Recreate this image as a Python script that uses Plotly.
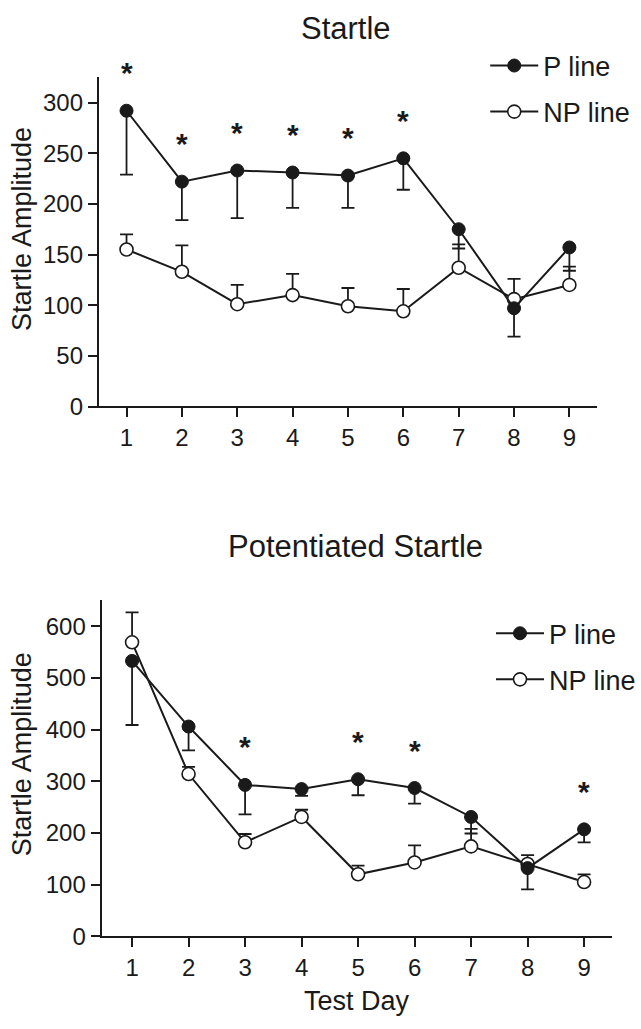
import plotly.graph_objects as go

# ---------------- data ----------------
days = [1, 2, 3, 4, 5, 6, 7, 8, 9]
day_labels = ["1", "2", "3", "4", "5", "6", "7", "8", "9"]

# Panel 1: Startle
startle_p = [292, 222, 233, 231, 228, 245, 175, 97, 157]
startle_p_sem = [63, 38, 47, 35, 32, 31, 19, 28, 23]
startle_np = [155, 133, 101, 110, 99, 94, 137, 106, 120]
startle_np_sem = [15, 26, 19, 21, 18, 22, 23, 20, 18]
startle_sig_days = [1, 2, 3, 4, 5, 6]

# Panel 2: Potentiated Startle
pot_p = [533, 406, 293, 285, 304, 287, 231, 132, 207]
pot_p_sem = [124, 46, 57, 13, 31, 30, 32, 41, 25]
pot_np = [569, 314, 182, 231, 120, 143, 174, 140, 105]
pot_np_sem = [58, 14, 16, 14, 17, 33, 34, 17, 15]
pot_sig_days = [3, 5, 6, 9]

# ---------------- style ----------------
W, H = 641, 1029
INK = "#1a1a1a"
FONT = "Liberation Sans, Arial, Helvetica, sans-serif"

def fx(px):
    return px / W

def fy(py):
    return 1 - py / H

fig = go.Figure()

def add_panel(xa, ya, legend, p, p_sem, np_, np_sem):
    zeros = [0] * len(days)
    fig.add_trace(go.Scatter(
        x=days, y=np_, name="NP line", mode="lines+markers",
        xaxis=xa, yaxis=ya, legend=legend, legendrank=2, legendgroup=legend + "np",
        line=dict(color=INK, width=2),
        marker=dict(symbol="circle", size=13, color="white", line=dict(color=INK, width=1.6)),
        error_y=dict(type="data", symmetric=False, array=np_sem, arrayminus=zeros,
                     color=INK, thickness=1.8, width=6.5),
        cliponaxis=False, hoverinfo="x+y"))
    fig.add_trace(go.Scatter(
        x=days, y=p, name="P line", mode="lines+markers",
        xaxis=xa, yaxis=ya, legend=legend, legendrank=1, legendgroup=legend + "p",
        line=dict(color=INK, width=2),
        marker=dict(symbol="circle", size=13, color=INK, line=dict(color=INK, width=1)),
        error_y=dict(type="data", symmetric=False, array=zeros, arrayminus=p_sem,
                     color=INK, thickness=1.8, width=6.5),
        cliponaxis=False, hoverinfo="x+y"))

add_panel("x", "y", "legend", startle_p, startle_p_sem, startle_np, startle_np_sem)
add_panel("x2", "y2", "legend2", pot_p, pot_p_sem, pot_np, pot_np_sem)

star_font = dict(family=FONT, size=30, color=INK)
annotations = []
for d in startle_sig_days:
    annotations.append(dict(x=d, y=startle_p[d - 1], xref="x", yref="y", text="<b>*</b>",
                            showarrow=False, yshift=38, font=star_font))
for d in pot_sig_days:
    annotations.append(dict(x=d, y=pot_p[d - 1], xref="x2", yref="y2", text="<b>*</b>",
                            showarrow=False, yshift=38, font=star_font))

# titles
annotations.append(dict(x=fx(347), y=fy(29), xref="paper", yref="paper", text="Startle",
                        showarrow=False, xanchor="center", yanchor="middle",
                        font=dict(family=FONT, size=31, color=INK)))
annotations.append(dict(x=fx(356), y=fy(553), xref="paper", yref="paper",
                        text="Potentiated Startle", showarrow=False,
                        xanchor="center", yanchor="middle",
                        font=dict(family=FONT, size=31, color=INK)))
# y axis titles
for yc in (232, 764):
    annotations.append(dict(x=fx(22), y=fy(yc), xref="paper", yref="paper",
                            text="Startle Amplitude", textangle=-90, showarrow=False,
                            xanchor="center", yanchor="middle",
                            font=dict(family=FONT, size=27, color=INK)))
# x axis title
annotations.append(dict(x=fx(358), y=fy(1014), xref="paper", yref="paper",
                        text="Test Day", showarrow=False, xanchor="center", yanchor="middle",
                        font=dict(family=FONT, size=27, color=INK)))

axis_common = dict(showline=True, linecolor=INK, linewidth=2, ticks="outside",
                   ticklen=9, tickwidth=2, tickcolor=INK, showgrid=False, zeroline=False,
                   tickfont=dict(family=FONT, size=24, color=INK), fixedrange=True)

legend_common = dict(font=dict(family=FONT, size=27, color=INK), bgcolor="rgba(0,0,0,0)",
                     borderwidth=0, itemwidth=48, tracegroupgap=8,
                     xanchor="left", yanchor="top", traceorder="grouped")

fig.update_layout(
    width=W, height=H, autosize=False,
    margin=dict(l=0, r=0, t=0, b=0),
    paper_bgcolor="white", plot_bgcolor="white",
    font=dict(family=FONT, color=INK),
    showlegend=True,
    xaxis=dict(domain=[fx(99), fx(598)], anchor="y", range=[0.5, 9.5],
               tickvals=days, ticktext=day_labels, **axis_common),
    yaxis=dict(domain=[fy(411.7), fy(78.3)], anchor="x", range=[0, 325],
               tickvals=[0, 50, 100, 150, 200, 250, 300], **axis_common),
    xaxis2=dict(domain=[fx(101.7), fx(613.3)], anchor="y2", range=[0.46, 9.5],
                tickvals=days, ticktext=day_labels, **axis_common),
    yaxis2=dict(domain=[fy(948.3), fy(607.3)], anchor="x2", range=[0, 651.6],
                tickvals=[0, 100, 200, 300, 400, 500, 600], **axis_common),
    legend=dict(x=fx(486), y=fy(42), **legend_common),
    legend2=dict(x=fx(492), y=fy(617), **legend_common),
    annotations=annotations,
)

fig.write_html("out.html", config={"displayModeBar": False},
               post_script="document.documentElement.style.margin='0';document.body.style.margin='0';")
